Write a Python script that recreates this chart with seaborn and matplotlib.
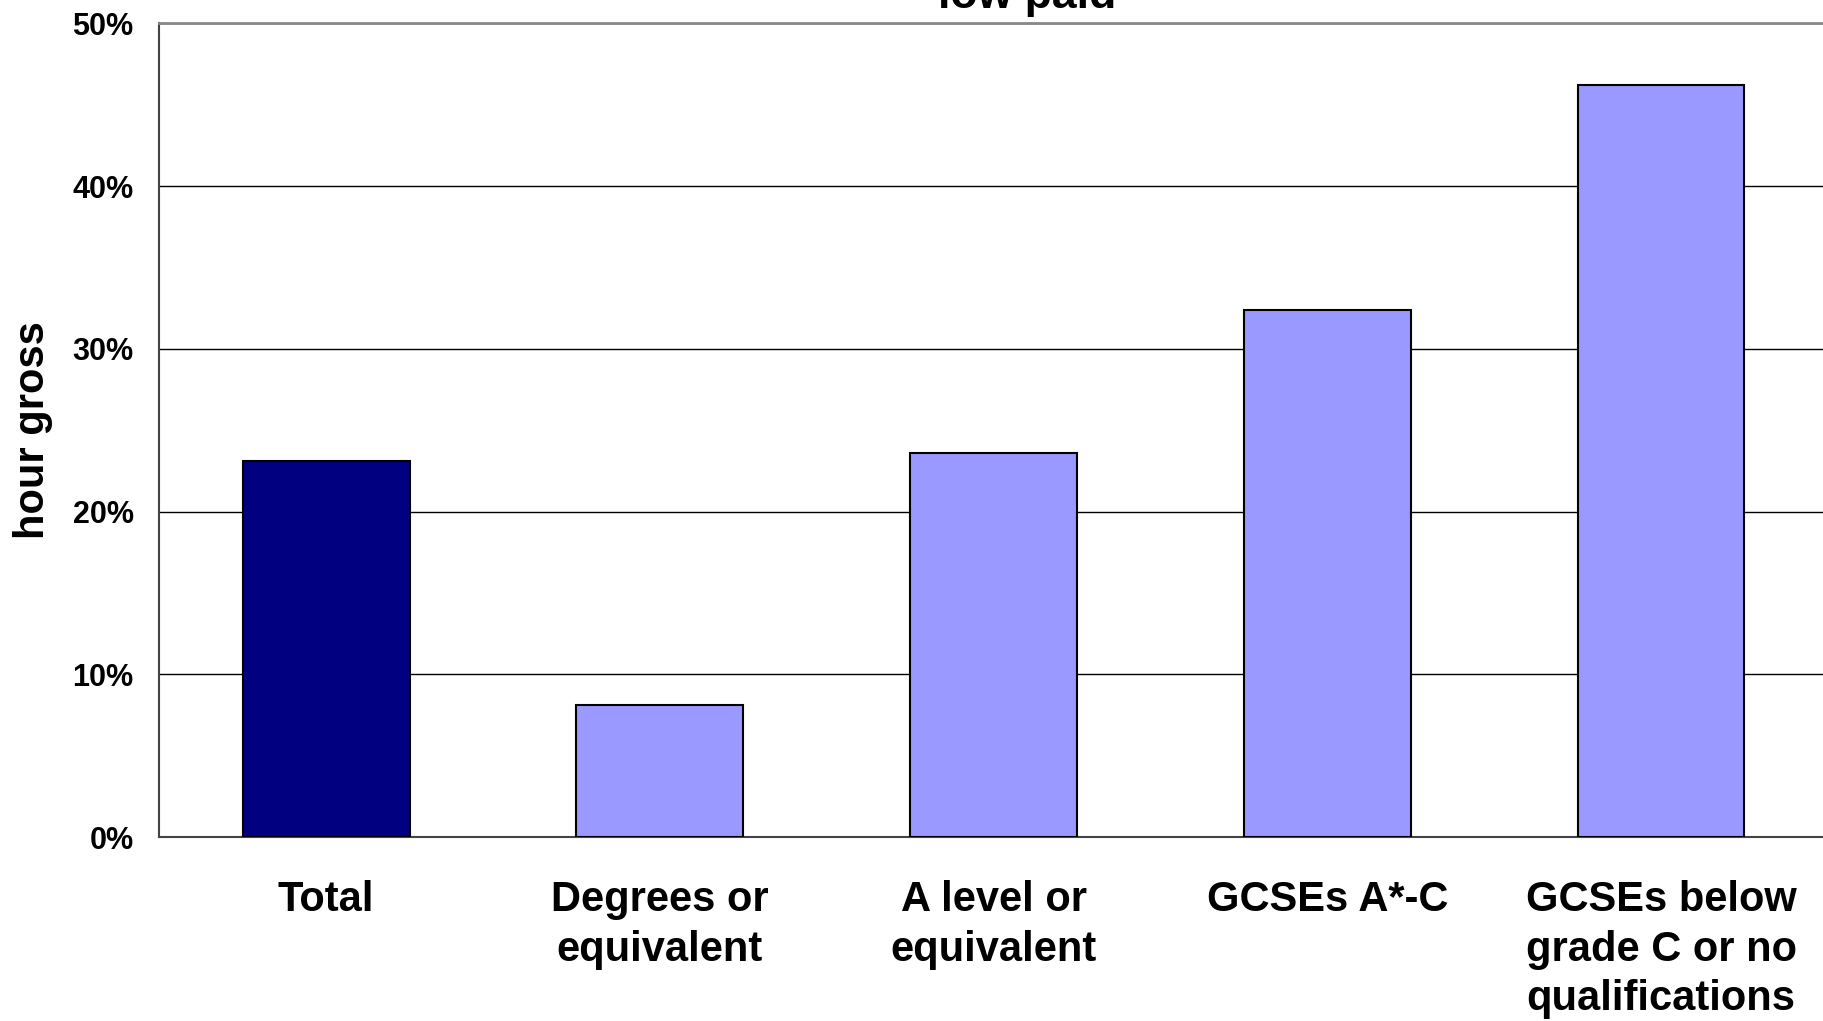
import numpy as np
import pandas as pd
import seaborn as sns
import matplotlib.pyplot as plt
from matplotlib.ticker import PercentFormatter, FixedLocator

categories = ['Total', 'Degrees or\nequivalent', 'A level or\nequivalent',
              'GCSEs A*-C', 'GCSEs below\ngrade C or no\nqualifications']
values = [23.1, 8.1, 23.6, 32.4, 46.2]
bar_colors = ['#000080', '#9999FF', '#9999FF', '#9999FF', '#9999FF']
y_ticks = [0, 10, 20, 30, 40, 50]

df = pd.DataFrame({'category': categories, 'value': values})

sns.set_style('white')
plt.rcParams['font.family'] = ['Liberation Sans', 'DejaVu Sans']
plt.rcParams['font.weight'] = 'bold'
plt.rcParams['text.color'] = 'black'
plt.rcParams['axes.labelcolor'] = 'black'

fig = plt.figure(figsize=(18.23, 10.21), dpi=100)
ax = fig.add_axes([0.0874, 0.180, 1.0027 - 0.0874, 0.977 - 0.180])

sns.barplot(data=df, x='category', y='value', hue='category', palette=bar_colors,
            saturation=1, legend=False, width=0.5, edgecolor='black', linewidth=1.5,
            ax=ax, zorder=3)

ax.set_xlim(-0.5, len(categories) - 0.5)
ax.set_ylim(0, 50)
ax.set_yticks(y_ticks)
ax.yaxis.set_major_formatter(PercentFormatter(decimals=0))
ax.grid(axis='y', color='black', linewidth=1.0, zorder=0)
ax.set_axisbelow(True)

for s in ['left', 'bottom']:
    ax.spines[s].set_color('#444444')
    ax.spines[s].set_linewidth(1.5)
ax.spines['right'].set_visible(False)
ax.spines['top'].set_color('#888888')
ax.spines['top'].set_linewidth(2)

ax.xaxis.set_minor_locator(FixedLocator(np.arange(-0.5, len(categories), 1.0)))
ax.tick_params(axis='x', which='major', length=0, pad=31, labelsize=30, labelcolor='black')
ax.tick_params(axis='x', which='minor', direction='inout', length=19, width=1, color='#444444')
ax.tick_params(axis='y', direction='inout', length=15, width=1, color='#444444',
               pad=11, labelsize=22, labelcolor='black')
for lab in ax.get_xticklabels():
    lab.set_fontweight('bold')
    lab.set_linespacing(1.3)
for lab in ax.get_yticklabels():
    lab.set_fontweight('bold')

ax.set_xlabel('')
ax.set_ylabel('hour gross', fontsize=30, fontweight='bold')
ax.yaxis.label.set_va('center')
ax.yaxis.set_label_coords(-0.076, 0.5)

fig.text(1027 / 1823, 1 - 8 / 1021, 'low paid', ha='center', va='baseline',
         fontsize=32, fontweight='bold')

fig.savefig('out.png', dpi=100)
